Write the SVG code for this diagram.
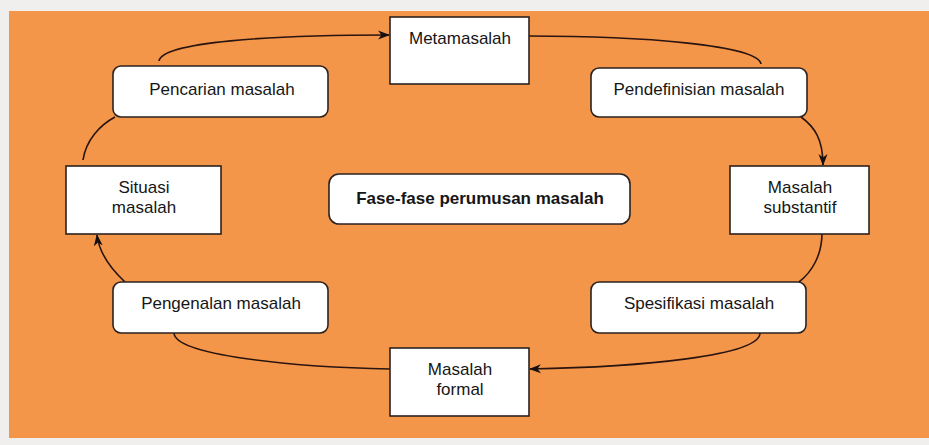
<svg xmlns="http://www.w3.org/2000/svg" width="929" height="445" viewBox="0 0 929 445">
  <style>
    .box { fill: #ffffff; stroke: #2b2220; stroke-width: 1.6; }
    .lbl { font-family: "Liberation Sans", Arial, sans-serif; font-size: 17px; fill: #161616; text-anchor: middle; }
    .title { font-weight: bold; }
    .link { fill: none; stroke: #2a1410; stroke-width: 1.6; }
  </style>
  <defs>
    <marker id="arrow" viewBox="0 0 12 10" markerWidth="12" markerHeight="10" refX="11" refY="5" orient="auto" markerUnits="userSpaceOnUse">
      <path d="M0,0.5 L12,5 L0,9.5 L3.5,5 Z" fill="#161010"/>
    </marker>
  </defs>

  <!-- page and panel -->
  <rect x="0" y="0" width="929" height="445" fill="#f0efee"/>
  <rect x="9" y="11" width="920" height="427" fill="#f4964a"/>

  <!-- cycle connectors -->
  <g id="connectors">
    <path class="link" d="M159,61 C162,42 270,35 389,35" marker-end="url(#arrow)"/>
    <path class="link" d="M529,36 C640,36 758,45 761,64"/>
    <path class="link" d="M801,117 C815,127 823,140 823,165" marker-end="url(#arrow)"/>
    <path class="link" d="M822,233 C822,255 812,272 799,282"/>
    <path class="link" d="M760,333 C760,356 640,367 530,369" marker-end="url(#arrow)"/>
    <path class="link" d="M390,369 C290,367 175,355 174,333"/>
    <path class="link" d="M125,282 C110,268 99,252 97,235" marker-end="url(#arrow)"/>
    <path class="link" d="M83,160 C86,140 100,125 115,117"/>
  </g>

  <g id="metamasalah">
    <rect class="box" x="390" y="17" width="139" height="67"/>
    <text class="lbl" x="460" y="44">Metamasalah</text>
  </g>

  <g id="pendefinisian">
    <rect class="box" x="591" y="68" width="216" height="49" rx="8"/>
    <text class="lbl" x="699" y="95">Pendefinisian masalah</text>
  </g>

  <g id="substantif">
    <rect class="box" x="730" y="166" width="139" height="68"/>
    <text class="lbl" x="800" y="193">Masalah</text>
    <text class="lbl" x="800" y="213">substantif</text>
  </g>

  <g id="spesifikasi">
    <rect class="box" x="591" y="282" width="215" height="51" rx="8"/>
    <text class="lbl" x="699" y="309">Spesifikasi masalah</text>
  </g>

  <g id="formal">
    <rect class="box" x="390" y="348" width="139" height="68"/>
    <text class="lbl" x="460" y="375">Masalah</text>
    <text class="lbl" x="460" y="395">formal</text>
  </g>

  <g id="pengenalan">
    <rect class="box" x="113" y="282" width="215" height="51" rx="8"/>
    <text class="lbl" x="221" y="309">Pengenalan masalah</text>
  </g>

  <g id="situasi">
    <rect class="box" x="66" y="166" width="155" height="68"/>
    <text class="lbl" x="144" y="193">Situasi</text>
    <text class="lbl" x="144" y="213">masalah</text>
  </g>

  <g id="pencarian">
    <rect class="box" x="113" y="66" width="215" height="51" rx="8"/>
    <text class="lbl" x="222" y="95">Pencarian masalah</text>
  </g>

  <g id="fase">
    <rect class="box" x="329" y="174" width="301" height="50" rx="10"/>
    <text class="lbl title" x="480" y="204">Fase-fase perumusan masalah</text>
  </g>
</svg>
